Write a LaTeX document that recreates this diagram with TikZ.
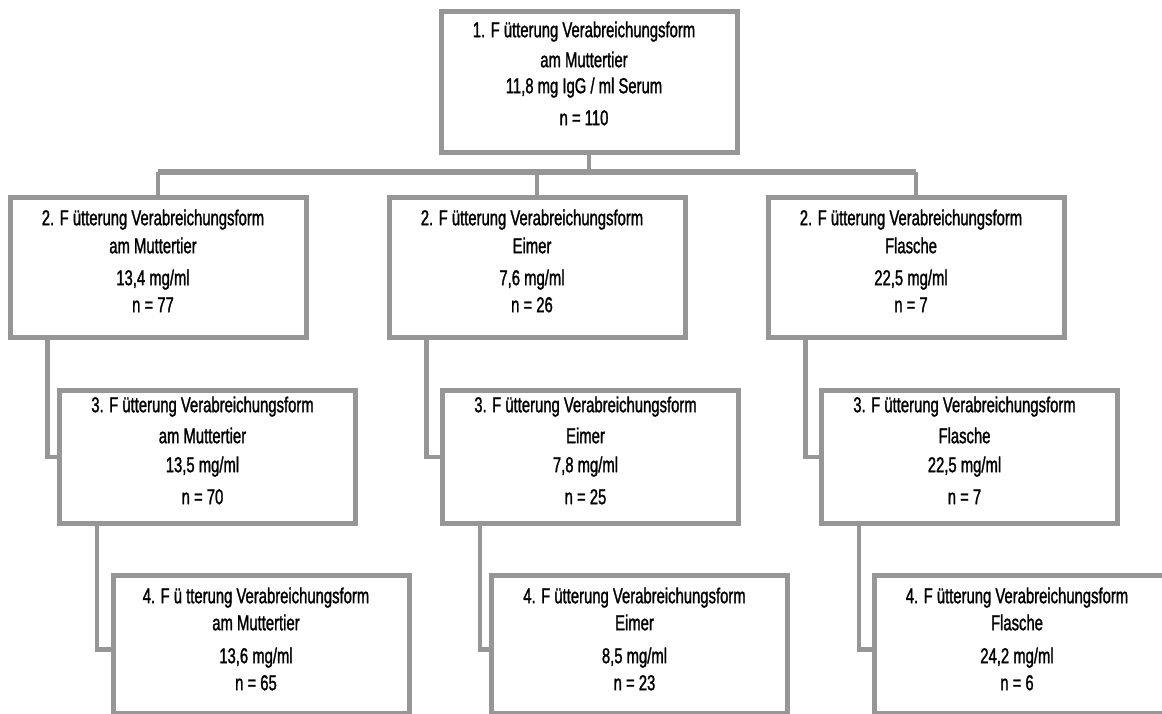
\documentclass[tikz,border=0pt]{standalone}
\usepackage{fontspec}
\setmainfont{Liberation Sans}[FakeStretch=0.69,FakeBold=1.3]
\usetikzlibrary{calc}
\definecolor{linegray}{RGB}{150,150,150}
\tikzset{
  fbox/.style={draw=linegray, line width=5pt, rectangle, inner sep=0pt,
    minimum width=296pt, text=black, font=\fontsize{21.5}{26}\selectfont},
  conn/.style={draw=linegray, line width=4.5pt},
  busline/.style={draw=linegray, line width=6pt},
}
\newcommand{\boxlines}[1]{\begin{tabular}{@{}c@{}}#1\end{tabular}\hspace*{10pt}}
\begin{document}
\begin{tikzpicture}[x=1pt,y=-1pt]
\useasboundingbox (0,0) rectangle (1162,713);
% level 1
\node[fbox, minimum height=141pt] (top) at (589,82)
  {\boxlines{1. F ütterung Verabreichungsform\\[4pt] am Muttertier\\ 11,8 mg IgG / ml Serum\\[6pt] n = 110\\[12pt]}};
% level 2
\node[fbox, minimum height=140pt] (l2a) at (158,267.5)
  {\boxlines{2. F ütterung Verabreichungsform\\[2pt] am Muttertier\\[6pt] 13,4 mg/ml\\[1pt] n = 77\\[8pt]}};
\node[fbox, minimum height=140pt] (l2b) at (537,267.5)
  {\boxlines{2. F ütterung Verabreichungsform\\[2pt] Eimer\\[6pt] 7,6 mg/ml\\[1pt] n = 26\\[8pt]}};
\node[fbox, minimum height=140pt] (l2c) at (916,267.5)
  {\boxlines{2. F ütterung Verabreichungsform\\[2pt] Flasche\\[6pt] 22,5 mg/ml\\[1pt] n = 7\\[8pt]}};
% level 3
\node[fbox, minimum height=133pt] (l3a) at (207.5,457)
  {\boxlines{3. F ütterung Verabreichungsform\\[5pt] am Muttertier\\[3pt] 13,5 mg/ml\\[6pt] n = 70\\[8pt]}};
\node[fbox, minimum height=133pt] (l3b) at (590.5,457)
  {\boxlines{3. F ütterung Verabreichungsform\\[5pt] Eimer\\[3pt] 7,8 mg/ml\\[6pt] n = 25\\[8pt]}};
\node[fbox, minimum height=133pt] (l3c) at (969.5,457)
  {\boxlines{3. F ütterung Verabreichungsform\\[5pt] Flasche\\[3pt] 22,5 mg/ml\\[6pt] n = 7\\[8pt]}};
% level 4
\node[fbox, minimum height=138pt] (l4a) at (261,644.5)
  {\boxlines{4. F ü tterung Verabreichungsform\\[1pt] am Muttertier\\[7pt] 13,6 mg/ml\\[1pt] n = 65\\[6pt]}};
\node[fbox, minimum height=138pt] (l4b) at (639.5,644.5)
  {\boxlines{4. F ütterung Verabreichungsform\\[1pt] Eimer\\[7pt] 8,5 mg/ml\\[1pt] n = 23\\[6pt]}};
\node[fbox, minimum height=138pt] (l4c) at (1022,644.5)
  {\boxlines{4. F ütterung Verabreichungsform\\[1pt] Flasche\\[7pt] 24,2 mg/ml\\[1pt] n = 6\\[6pt]}};
% connectors
\coordinate (bus) at (0,171.5);
\draw[conn] (top.south) -- (top.south |- bus);
\draw[busline] (l2a.north |- bus) -- (l2c.north |- bus);
\draw[conn] (l2a.north) -- (l2a.north |- bus);
\draw[conn] (l2b.north) -- (l2b.north |- bus);
\draw[conn] (l2c.north) -- (l2c.north |- bus);
\draw[conn] ($(l2a.south west)+(40,0)$) |- (l3a.west);
\draw[conn] ($(l2b.south west)+(40,0)$) |- (l3b.west);
\draw[conn] ($(l2c.south west)+(40,0)$) |- (l3c.west);
\draw[conn] ($(l3a.south west)+(40,0)$) |- ($(l4a.west)+(0,5)$);
\draw[conn] ($(l3b.south west)+(40,0)$) |- ($(l4b.west)+(0,5)$);
\draw[conn] ($(l3c.south west)+(40,0)$) |- ($(l4c.west)+(0,5)$);
\end{tikzpicture}
\end{document}
